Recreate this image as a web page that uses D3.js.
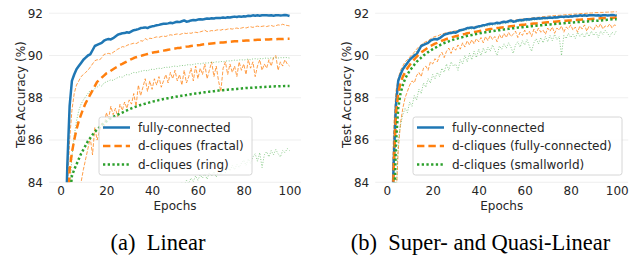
<!DOCTYPE html>
<html><head><meta charset="utf-8">
<script src="https://cdn.jsdelivr.net/npm/d3@7"></script>
<style>
body{margin:0;background:#fff;}
svg{display:block;}
</style></head>
<body>
<script>
// ---------------- DATA ----------------
const epochs = d3.range(1, 101);
const yTicks = [84, 86, 88, 90, 92];
const xTicks = [0, 20, 40, 60, 80, 100];
const captions = ["(a)\u2002Linear", "(b)\u2002Super- and Quasi-Linear"];
const legendLeft = ["fully-connected", "d-cliques (fractal)", "d-cliques (ring)"];
const legendRight = ["fully-connected", "d-cliques (fully-connected)", "d-cliques (smallworld)"];

const fullyConnected = [72.0,80.5,84.8,87.6,88.8,89.1,89.35,89.5,89.65,89.8,
89.9,90.0,90.05,90.25,90.45,90.5,90.55,90.6,90.7,90.75,
90.78,90.76,90.82,90.9,90.98,91.02,91.05,91.06,91.1,91.08,
91.14,91.2,91.22,91.25,91.3,91.31,91.33,91.3,91.35,91.38,
91.4,91.43,91.45,91.48,91.5,91.5,91.52,91.55,91.53,91.57,
91.6,91.58,91.62,91.66,91.6,91.62,91.66,91.68,91.67,91.7,
91.72,91.7,91.73,91.75,91.74,91.76,91.75,91.78,91.77,91.78,
91.8,91.78,91.81,91.8,91.82,91.84,91.82,91.85,91.83,91.86,
91.85,91.88,91.87,91.9,91.88,91.9,91.88,91.9,91.91,91.9,
91.89,91.9,91.88,91.9,91.91,91.89,91.9,91.92,91.9,91.87];

// (a) d-cliques (fractal): mean, max, min
const fractalMean = [65,76,82,84.6,85.4,86.0,86.5,86.9,87.2,87.5,
87.75,87.95,88.15,88.35,88.55,88.75,88.85,88.95,89.05,89.15,
89.2,89.28,89.35,89.42,89.48,89.55,89.6,89.66,89.72,89.78,
89.83,89.88,89.92,89.95,89.98,90.01,90.04,90.07,90.1,90.13,
90.15,90.17,90.19,90.21,90.23,90.25,90.27,90.29,90.31,90.33,
90.35,90.36,90.38,90.4,90.42,90.43,90.45,90.46,90.48,90.49,
90.5,90.52,90.53,90.54,90.56,90.57,90.58,90.59,90.6,90.61,
90.62,90.63,90.64,90.65,90.66,90.67,90.68,90.68,90.69,90.7,
90.71,90.71,90.72,90.73,90.73,90.74,90.74,90.75,90.75,90.76,
90.76,90.77,90.77,90.77,90.78,90.78,90.78,90.79,90.79,90.79];
const fractalMax = [70,79,83.5,86.0,87.4,88.2,88.6,88.8,89.0,89.1,
89.2,89.3,89.45,89.6,89.75,89.8,89.78,89.9,90.05,90.08,
90.1,90.07,90.15,90.22,90.3,90.35,90.42,90.4,90.48,90.52,
90.55,90.58,90.56,90.62,90.7,90.68,90.8,90.74,90.82,90.8,
90.85,90.88,90.86,90.9,90.92,90.9,90.95,90.98,90.96,91.0,
91.02,90.99,91.03,91.06,91.04,91.07,91.05,91.09,91.1,91.08,
91.12,91.15,91.2,91.13,91.15,91.18,91.16,91.2,91.22,91.2,
91.24,91.22,91.25,91.27,91.25,91.28,91.3,91.27,91.3,91.33,
91.3,91.34,91.36,91.33,91.37,91.39,91.36,91.38,91.4,91.37,
91.4,91.42,91.38,91.41,91.45,91.43,91.48,91.44,91.42,91.4];
const fractalMin = [55,68,74,77,79,80.5,82,83.2,84.0,84.6,
85.1,85.6,86.1,85.3,86.6,86.0,86.4,86.8,86.5,87.3,
87.0,87.6,87.2,87.5,87.1,87.7,87.4,87.8,87.5,87.9,
87.7,88.2,87.6,88.6,88.1,88.5,88.9,88.3,88.8,88.4,
88.9,88.6,89.0,88.5,88.8,89.1,88.7,89.2,88.9,89.3,
88.8,89.1,88.6,89.3,88.7,89.0,89.4,88.8,89.5,88.9,
89.4,89.1,89.6,88.9,89.3,89.7,89.0,89.5,88.8,88.3,
89.4,89.7,89.1,89.6,89.2,89.5,89.0,89.7,89.3,89.6,
89.1,89.8,89.4,89.7,89.0,89.5,89.8,89.3,89.6,89.4,
89.8,89.5,89.9,90.0,89.3,89.7,89.5,89.8,89.6,89.5];

// (a) d-cliques (ring): mean, max, min
const ringMean = [60,72,80,83.2,84.3,84.6,84.85,85.1,85.35,85.55,
85.75,85.95,86.1,86.25,86.38,86.5,86.6,86.7,86.8,86.88,
86.96,87.03,87.1,87.15,87.2,87.25,87.3,87.35,87.4,87.45,
87.5,87.54,87.58,87.62,87.66,87.69,87.72,87.75,87.78,87.81,
87.84,87.86,87.89,87.91,87.94,87.96,87.98,88.0,88.02,88.04,
88.06,88.08,88.1,88.12,88.13,88.15,88.17,88.18,88.2,88.21,
88.23,88.24,88.26,88.27,88.29,88.3,88.31,88.33,88.34,88.35,
88.36,88.37,88.38,88.39,88.4,88.41,88.42,88.43,88.44,88.45,
88.46,88.46,88.47,88.48,88.49,88.49,88.5,88.51,88.51,88.52,
88.52,88.53,88.53,88.54,88.54,88.55,88.55,88.56,88.56,88.56];
const ringMax = [65,75,80.5,83.5,85.2,86.2,86.9,87.4,87.7,87.9,
88.05,88.2,88.35,88.3,88.45,88.5,88.6,88.55,88.7,88.75,
88.8,88.85,88.82,88.9,88.95,89.0,88.97,89.05,89.1,89.08,
89.15,89.2,89.18,89.22,89.25,89.28,89.3,89.27,89.33,89.35,
89.34,89.38,89.4,89.38,89.42,89.45,89.43,89.46,89.48,89.5,
89.48,89.51,89.53,89.52,89.55,89.57,89.55,89.58,89.6,89.62,
89.6,89.63,89.65,89.64,89.66,89.68,89.67,89.7,89.69,89.72,
89.7,89.73,89.75,89.74,89.76,89.78,89.77,89.79,89.8,89.78,
89.81,89.83,89.8,89.84,89.85,89.83,89.86,89.84,89.87,89.88,
89.86,89.89,89.87,89.9,89.88,89.9,89.89,89.91,89.9,89.88];
const ringMin = [50,60,66,70,72.5,74.3,75.6,76.6,77.4,78.0,
78.6,79.0,79.4,79.8,80.1,80.4,80.7,80.9,81.1,81.3,
81.5,81.6,81.8,81.9,82.0,82.2,82.3,82.4,82.5,82.6,
82.7,82.8,82.85,82.9,83.0,83.05,83.1,83.2,83.25,83.3,
83.4,83.35,83.5,83.45,83.6,83.5,83.7,83.6,83.8,83.7,
83.9,83.8,84.0,83.85,84.1,83.95,84.2,84.05,84.3,84.1,
84.35,84.2,84.4,84.15,84.45,84.3,84.5,84.25,84.55,84.4,
84.6,84.45,84.7,84.55,84.8,84.6,84.85,84.7,84.9,85.05,
84.8,85.1,84.9,85.2,85.35,85.0,85.4,84.7,85.3,85.45,
85.2,85.5,85.3,85.55,85.35,85.2,85.5,85.4,85.6,85.5];

// (b) d-cliques (fully-connected): mean, max, min
const dcFcMean = [70,78,84.5,87.2,88.2,88.7,89.0,89.2,89.4,89.55,
89.7,89.82,89.94,90.05,90.15,90.22,90.3,90.38,90.45,90.5,
90.56,90.6,90.65,90.7,90.74,90.78,90.82,90.85,90.88,90.91,
90.94,90.97,91.0,91.02,91.05,91.07,91.09,91.11,91.13,91.15,
91.17,91.19,91.21,91.23,91.25,91.26,91.28,91.3,91.31,91.33,
91.34,91.36,91.37,91.39,91.4,91.41,91.43,91.44,91.45,91.46,
91.48,91.49,91.5,91.51,91.52,91.53,91.54,91.55,91.56,91.57,
91.58,91.59,91.6,91.61,91.62,91.63,91.64,91.65,91.66,91.66,
91.67,91.68,91.69,91.69,91.7,91.71,91.72,91.72,91.73,91.74,
91.74,91.75,91.76,91.76,91.77,91.77,91.78,91.78,91.79,91.79];
const dcFcMax = [74,82,86.5,88.3,88.9,89.3,89.5,89.7,89.8,89.92,
90.05,90.15,90.3,90.42,90.5,90.6,90.65,90.7,90.78,90.85,
90.9,90.92,90.97,91.02,91.05,91.08,91.1,91.13,91.15,91.17,
91.2,91.22,91.25,91.27,91.3,91.31,91.33,91.35,91.37,91.4,
91.41,91.43,91.45,91.47,91.5,91.51,91.53,91.55,91.56,91.58,
91.6,91.61,91.63,91.65,91.66,91.68,91.7,91.71,91.72,91.74,
91.75,91.76,91.78,91.79,91.8,91.81,91.82,91.84,91.85,91.86,
91.87,91.88,91.89,91.9,91.9,91.91,91.92,91.93,91.94,91.95,
91.96,91.96,91.97,91.98,91.99,91.99,92.0,92.01,92.01,92.02,
92.03,92.03,92.04,92.04,92.05,92.05,92.06,92.06,92.07,92.07];
const dcFcMin = [60,72,79,83,85.5,86.8,87.5,88.0,88.3,88.6,
88.8,88.7,89.05,89.2,89.0,89.4,89.5,89.3,89.7,89.6,
89.85,89.7,90.0,90.15,89.9,90.2,90.35,90.1,90.4,90.25,
90.5,90.3,90.6,90.4,90.7,90.5,90.75,90.55,90.8,90.65,
90.85,90.6,90.9,90.7,90.95,90.75,90.9,90.65,91.0,90.8,
91.05,90.85,91.1,90.9,91.0,91.15,90.85,91.1,90.95,91.2,
91.0,91.15,90.9,91.25,91.05,91.3,91.1,91.2,91.0,91.3,
91.15,91.35,91.05,91.3,91.2,91.4,91.1,91.35,91.25,91.45,
91.2,91.35,91.1,91.4,91.25,91.45,91.15,91.4,91.3,91.2,
91.45,91.3,91.5,91.25,91.4,91.35,91.5,91.3,91.45,91.4];

// (b) d-cliques (smallworld): mean, max, min
const swMean = [65,75,82,85.8,87.5,88.2,88.6,88.9,89.1,89.28,
89.42,89.56,89.7,89.8,89.9,90.0,90.08,90.16,90.23,90.3,
90.36,90.42,90.48,90.54,90.59,90.63,90.67,90.71,90.75,90.78,
90.81,90.84,90.87,90.9,90.93,90.95,90.97,91.0,91.02,91.04,
91.06,91.08,91.1,91.12,91.14,91.15,91.17,91.19,91.2,91.22,
91.23,91.25,91.26,91.28,91.29,91.3,91.32,91.33,91.34,91.35,
91.36,91.38,91.39,91.4,91.41,91.42,91.43,91.44,91.45,91.46,
91.47,91.48,91.49,91.5,91.51,91.52,91.53,91.54,91.55,91.55,
91.56,91.57,91.58,91.59,91.6,91.6,91.61,91.62,91.63,91.64,
91.64,91.65,91.66,91.67,91.68,91.69,91.7,91.71,91.72,91.72];
const swMax = [72,80,85.5,87.9,88.7,89.1,89.35,89.55,89.7,89.82,
89.95,90.05,90.2,90.32,90.42,90.5,90.56,90.62,90.7,90.76,
90.8,90.84,90.88,90.93,90.97,91.0,91.03,91.06,91.08,91.1,
91.13,91.16,91.18,91.2,91.22,91.24,91.26,91.28,91.3,91.32,
91.34,91.36,91.38,91.4,91.42,91.43,91.45,91.47,91.48,91.5,
91.51,91.53,91.54,91.56,91.57,91.58,91.6,91.61,91.62,91.63,
91.64,91.66,91.67,91.68,91.69,91.7,91.71,91.72,91.73,91.74,
91.75,91.76,91.77,91.78,91.79,91.8,91.8,91.81,91.82,91.83,
91.84,91.84,91.85,91.86,91.86,91.87,91.87,91.88,91.89,91.89,
91.9,91.9,91.91,91.91,91.92,91.92,91.93,91.93,91.94,91.94];
const swMin = [50,65,76,83,86.0,86.7,87.2,87.5,87.3,87.8,
87.6,88.1,87.9,88.4,88.2,88.7,88.5,88.9,88.7,89.1,
88.9,89.2,89.0,89.4,89.2,89.6,89.3,89.7,89.5,89.6,
89.3,89.8,89.6,90.0,89.7,90.1,89.8,90.2,89.9,90.3,
90.0,90.35,90.1,90.4,90.2,90.5,90.25,90.0,90.45,90.3,
90.55,90.35,90.6,90.4,90.1,90.5,90.65,90.4,90.7,90.5,
90.75,90.45,90.2,90.6,90.8,90.55,90.85,90.6,90.9,90.65,
90.95,90.7,91.0,90.75,90.9,90.0,90.95,90.8,91.05,90.85,
91.0,90.8,91.1,90.9,91.05,90.85,91.1,90.9,91.15,90.95,
91.1,90.85,91.15,91.0,91.2,91.05,90.9,91.1,91.0,91.2];

// ---------------- DRAW ----------------
const W = 630, H = 256;
const svg = d3.select("body").append("svg").attr("width", W).attr("height", H);
const FONT = "DejaVu Sans, sans-serif";
const FS = 12;
const TXT = "#262626";
const C = {blue: "#1f77b4", orange: "#ff7f0e", green: "#2ca02c"};
const STY = {
  solid:  {w: 2.5, dash: null},
  dashed: {w: 2.5, dash: "7.4,4"},
  dotted: {w: 2.5, dash: "2.3,2.4"},
  tdashed: {w: 1, dash: "3.7,1.6"},
  tdotted: {w: 1, dash: "1,1.65"}
};

function panel(id, x0, x1, series, legendLabels, legendBox, caption, capX) {
  const yTop = 6.9, yBot = 182.3;
  const x = d3.scaleLinear().domain([-5, 105]).range([x0, x1]);
  const y = d3.scaleLinear().domain([84, 92.3]).range([yBot, yTop]);
  const g = svg.append("g");

  g.append("clipPath").attr("id", id).append("rect")
    .attr("x", x0).attr("y", yTop).attr("width", x1 - x0).attr("height", yBot - yTop);

  // grid
  g.append("g").selectAll("line").data(yTicks).join("line")
    .attr("x1", x0).attr("x2", x1).attr("y1", d => y(d)).attr("y2", d => y(d))
    .attr("stroke", "#ebebeb").attr("stroke-width", 0.8);

  // axes (no domain line)
  const ya = g.append("g").attr("transform", `translate(${x0},0)`)
    .call(d3.axisLeft(y).tickValues(yTicks).tickSize(0).tickPadding(6));
  const xa = g.append("g").attr("transform", `translate(0,${yBot})`)
    .call(d3.axisBottom(x).tickValues(xTicks).tickSize(0).tickPadding(4));
  [ya, xa].forEach(a => {
    a.select(".domain").remove();
    a.selectAll("text").attr("font-family", FONT).attr("font-size", FS).attr("fill", TXT);
  });

  g.append("text").attr("x", (x0 + x1) / 2).attr("y", 210)
    .attr("text-anchor", "middle").attr("font-family", FONT).attr("font-size", FS)
    .attr("fill", TXT).text("Epochs");
  g.append("text").attr("transform", `translate(${x0 - 24},${(yTop + yBot) / 2}) rotate(-90)`)
    .attr("text-anchor", "middle").attr("font-family", FONT).attr("font-size", FS)
    .attr("fill", TXT).text("Test Accuracy (%)");

  const line = d3.line().x((d, i) => x(epochs[i])).y(d => y(d));
  const plot = g.append("g").attr("clip-path", `url(#${id})`);
  series.forEach(s => {
    const st = STY[s.style];
    plot.append("path").attr("d", line(s.values)).attr("fill", "none")
      .attr("stroke", s.color).attr("stroke-width", st.w)
      .attr("stroke-dasharray", st.dash).attr("stroke-opacity", s.op || 1)
      .attr("stroke-linejoin", "round");
  });

  // legend
  const lb = legendBox;
  const lg = g.append("g");
  lg.append("rect").attr("x", lb.x).attr("y", lb.y).attr("width", lb.w).attr("height", lb.h)
    .attr("rx", 2.5).attr("fill", "#fff").attr("fill-opacity", 0.8)
    .attr("stroke", "#cccccc").attr("stroke-width", 0.8);
  const hs = ["solid", "dashed", "dotted"], hc = [C.blue, C.orange, C.green];
  legendLabels.forEach((t, i) => {
    const yy = lb.y + 10.5 + i * 18.5;
    lg.append("line").attr("x1", lb.x + 4).attr("x2", lb.x + 31).attr("y1", yy).attr("y2", yy)
      .attr("stroke", hc[i]).attr("stroke-width", 2.5).attr("stroke-dasharray", STY[hs[i]].dash);
    lg.append("text").attr("x", lb.x + 39).attr("y", yy).attr("dy", "0.35em")
      .attr("font-family", FONT).attr("font-size", FS).attr("fill", TXT).text(t);
  });

  svg.append("text").attr("x", capX).attr("y", 250).attr("text-anchor", "middle")
    .attr("font-family", "Liberation Serif, Times New Roman, serif").attr("font-size", 22.5)
    .attr("fill", "#000").text(caption);
}

panel("clipA", 49, 301, [
  {values: fractalMax, color: C.orange, style: "tdashed", op: 0.75},
  {values: fractalMin, color: C.orange, style: "tdashed", op: 0.75},
  {values: ringMax, color: C.green, style: "tdotted", op: 0.55},
  {values: ringMin, color: C.green, style: "tdotted", op: 0.55},
  {values: fullyConnected, color: C.blue, style: "solid"},
  {values: fractalMean, color: C.orange, style: "dashed"},
  {values: ringMean, color: C.green, style: "dotted"}
], legendLeft, {x: 99, y: 117, w: 153, h: 58}, captions[0], 158);

panel("clipB", 375.2, 628.2, [
  {values: dcFcMax, color: C.orange, style: "tdashed", op: 0.75},
  {values: dcFcMin, color: C.orange, style: "tdashed", op: 0.75},
  {values: swMax, color: C.green, style: "tdotted", op: 0.55},
  {values: swMin, color: C.green, style: "tdotted", op: 0.55},
  {values: fullyConnected, color: C.blue, style: "solid"},
  {values: dcFcMean, color: C.orange, style: "dashed"},
  {values: swMean, color: C.green, style: "dotted"}
], legendRight, {x: 413, y: 117, w: 209, h: 58}, captions[1], 480.5);
</script>
</body></html>
